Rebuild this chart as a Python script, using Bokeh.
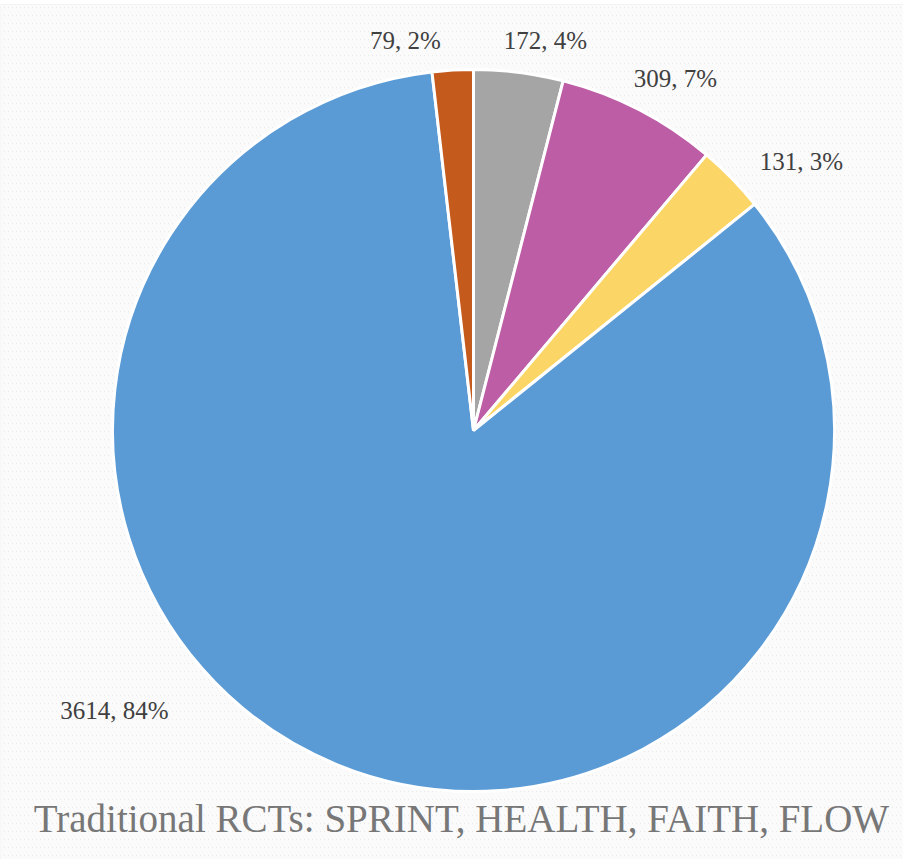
import numpy as np
from bokeh.plotting import figure
from bokeh.models import ColumnDataSource, Range1d
from bokeh.core.properties import value
from bokeh.embed import file_html
from bokeh.resources import INLINE

# ---- data (clockwise from 12 o'clock) ----
categories = ["B", "C", "D", "A", "E"]
counts = [172, 309, 131, 3614, 79]
colors = ["#A5A5A5", "#BD5DA6", "#FBD666", "#5B9BD5", "#C55A1D"]
title_text = "Traditional RCTs: SPRINT, HEALTH, FAITH, FLOW"

# label anchor points (plot units)
label_x = [545, 675, 801, 114, 405]
label_y = [819, 781, 698, 149, 819]

W, H = 903, 859
cx, cy, R = 473, 429, 361

total = sum(counts)
fr = np.array(counts) / total
cum = np.concatenate([[0], np.cumsum(fr)])
start = np.pi / 2 - 2 * np.pi * cum[:-1]
end = np.pi / 2 - 2 * np.pi * cum[1:]
labels = [f"{c}, {round(f * 100)}%" for c, f in zip(counts, fr)]

src = ColumnDataSource(dict(cat=categories, start=start, end=end, color=colors,
                            lx=label_x, ly=label_y, label=labels))

p = figure(width=W, height=H, x_range=Range1d(0, W), y_range=Range1d(0, H),
           output_backend="svg", toolbar_location=None, min_border=0)
p.axis.visible = False
p.grid.visible = False
p.outline_line_color = None
p.background_fill_color = "#ffffff"
p.border_fill_color = "#ffffff"

# hatched background
p.quad(left=0, right=W, bottom=0, top=H - 4, fill_color="#d8d8d8", line_color=None,
       hatch_pattern="left_diagonal_line", hatch_color="#fbfbfb",
       hatch_weight=3.5, hatch_scale=8)

p.wedge(x=cx, y=cy, radius=R, start_angle="start", end_angle="end",
        direction="clock", fill_color="color", line_color="white",
        line_width=3, source=src)

p.text(x="lx", y="ly", text="label", source=src, text_font=value("Liberation Serif"),
       text_font_size="25px", text_color="#404040", text_align="center",
       text_baseline="middle")

p.text(x=[461], y=[41], text=[title_text], text_font=value("Liberation Serif"),
       text_font_size="39px", text_color="#777777", text_align="center",
       text_baseline="middle")

open("out.html", "w").write(file_html(p, INLINE))
